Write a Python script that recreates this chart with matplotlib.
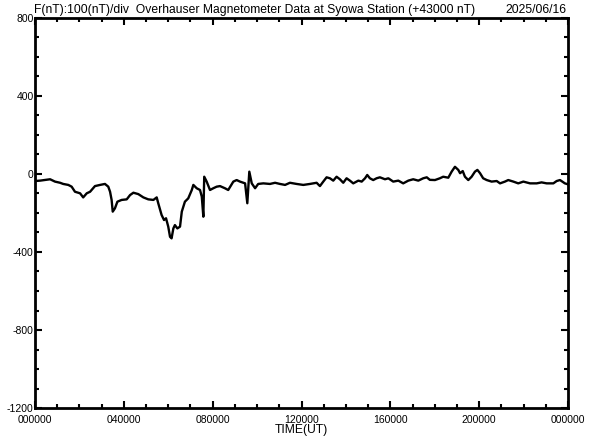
import matplotlib
matplotlib.use("Agg")
import matplotlib.pyplot as plt
from matplotlib.ticker import MultipleLocator

plt.rcParams['font.family'] = ['Liberation Sans', 'DejaVu Sans']

# time in hours UT, F - 43000 nT
hours = [0.00, 0.23, 0.68, 0.90, 1.13, 1.27, 1.50, 1.65, 1.80, 2.03, 2.17, 2.33, 2.48, 2.70,
         2.93, 3.15, 3.30, 3.38, 3.45, 3.50, 3.60, 3.71, 3.90, 4.13, 4.28, 4.43, 4.65, 4.88,
         5.10, 5.33, 5.48, 5.55, 5.70, 5.81, 5.90, 6.00, 6.08, 6.15, 6.23, 6.30, 6.41, 6.53,
         6.61, 6.75, 6.90, 7.06, 7.13, 7.28, 7.43, 7.51, 7.58, 7.62, 7.73, 7.88, 8.03, 8.18,
         8.33, 8.55, 8.70, 8.93, 9.08, 9.23, 9.46, 9.56, 9.65, 9.76, 9.91, 10.05, 10.28, 10.58,
         10.81, 11.03, 11.26, 11.48, 11.78, 12.08, 12.38, 12.68, 12.83, 12.98, 13.13, 13.28,
         13.43, 13.58, 13.73, 13.88, 14.03, 14.18, 14.33, 14.56, 14.71, 14.86, 14.96, 15.08,
         15.23, 15.38, 15.53, 15.76, 15.91, 16.13, 16.36, 16.58, 16.81, 17.03, 17.26, 17.48,
         17.64, 17.78, 18.01, 18.23, 18.38, 18.61, 18.76, 18.91, 19.06, 19.14, 19.26, 19.36,
         19.51, 19.66, 19.81, 19.92, 20.04, 20.18, 20.34, 20.56, 20.79, 20.94, 21.16, 21.31,
         21.54, 21.76, 21.99, 22.29, 22.59, 22.81, 23.04, 23.34, 23.49, 23.64, 23.86, 24.00]
f_nt = [-36, -34, -27, -39, -45, -51, -56, -65, -91, -99, -120, -99, -91, -62,
        -56, -51, -65, -91, -133, -193, -176, -142, -133, -130, -108, -96, -103, -120,
        -130, -133, -120, -150, -210, -236, -227, -270, -322, -330, -279, -262, -279, -270,
        -193, -142, -125, -82, -56, -73, -82, -116, -219, -14, -39, -82, -73, -65,
        -62, -73, -82, -39, -31, -39, -48, -150, 12, -48, -73, -51, -48, -51,
        -45, -51, -56, -45, -51, -56, -51, -45, -62, -39, -17, -22,
        -34, -14, -27, -45, -22, -34, -48, -34, -39, -22, -5, -22,
        -31, -22, -17, -27, -22, -39, -34, -48, -34, -27, -34, -22,
        -17, -30, -31, -22, -14, -19, 12, 37, 21, 4, 15, -14,
        -31, -14, 12, 21, 4, -22, -31, -39, -36, -48, -39, -31,
        -39, -48, -39, -48, -48, -43, -48, -48, -36, -31, -48, -53]

x_tick_hours = [0, 4, 8, 12, 16, 20, 24]
x_tick_labels = ["000000", "040000", "080000", "120000", "160000", "200000", "000000"]
y_ticks = [-1200, -800, -400, 0, 400, 800]

fig = plt.figure(figsize=(5.92, 4.40), dpi=100)
ax = fig.add_axes([35/592, 1 - 408/440, (568 - 35)/592, (408 - 18)/440])
ax.plot(hours, f_nt, color='black', lw=1.7)
ax.set_xlim(0, 24)
ax.set_ylim(-1200, 800)
ax.set_xticks(x_tick_hours)
ax.set_xticklabels(x_tick_labels)
ax.set_yticks(y_ticks)
ax.set_yticklabels([str(v) for v in y_ticks])
ax.xaxis.set_minor_locator(MultipleLocator(1))
ax.yaxis.set_minor_locator(MultipleLocator(100))
ax.tick_params(which='both', direction='in', top=True, right=True, width=1.5, labelsize=7.5)
ax.tick_params(which='major', length=5)
ax.tick_params(which='minor', length=3)
ax.tick_params(axis='y', pad=1)
ax.tick_params(axis='x', pad=5)
for s in ax.spines.values():
    s.set_linewidth(2)
ax.set_xlabel("TIME(UT)", fontsize=8.7, labelpad=-1)
fig.text(34/592, 1 - 10/440, "F(nT):100(nT)/div  Overhauser Magnetometer Data at Syowa Station (+43000 nT)",
         fontsize=8.7, ha='left', va='center')
fig.text(566/592, 1 - 10/440, "2025/06/16", fontsize=8.7, ha='right', va='center')
fig.savefig("out.png", dpi=100)
